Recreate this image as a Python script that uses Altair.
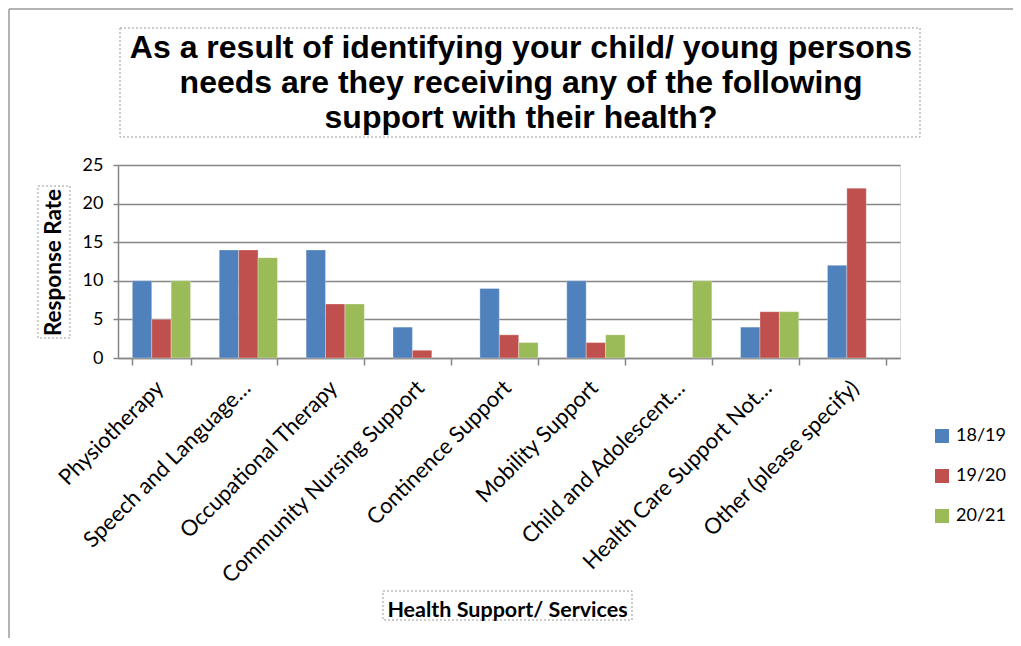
import altair as alt
import pandas as pd

categories = [
    "Physiotherapy",
    "Speech and Language…",
    "Occupational Therapy",
    "Community Nursing Support",
    "Continence Support",
    "Mobility Support",
    "Child and Adolescent…",
    "Health Care Support Not…",
    "Other (please specify)",
]
years = ["18/19", "19/20", "20/21"]
v1819 = [10, 14, 14, 4, 9, 10, 0, 4, 12]
v1920 = [5, 14, 7, 1, 3, 2, 0, 6, 22]
v2021 = [10, 13, 7, 0, 2, 3, 10, 6, 0]
colors = ["#4F81BD", "#C0504D", "#9BBB59"]
title_lines = [
    "As a result of identifying your child/ young persons",
    "needs are they receiving any of the following",
    "support with their health?",
]

rows = []
for yr, vals in zip(years, [v1819, v1920, v2021]):
    for c, v in zip(categories, vals):
        rows.append({"category": c, "year": yr, "value": v})
df = pd.DataFrame(rows)

W, H = 782, 193
PL, PT = 110, 157

bars = alt.Chart(df).transform_filter("datum.value > 0").mark_bar(
    stroke="white", strokeWidth=0.6, strokeOpacity=0.5
).encode(
    x=alt.X(
        "category:N",
        sort=categories,
        scale=alt.Scale(paddingInner=0.33, paddingOuter=0.165),
        axis=alt.Axis(
            title="Health Support/ Services",
            labelAngle=-45,
            labelFont="Lato",
            labelFontSize=22,
            labelColor="#000000",
            labelPadding=12,
            labelOffset=-9,
            labelLimit=400,
            tickBand="extent",
            tickSize=7,
            tickColor="#868686",
            tickWidth=1.5,
            domainColor="#868686",
            domainWidth=1.5,
            titleFont="Lato",
            titleFontSize=21.5,
            titleFontWeight="bold",
            titleColor="#000000",
            titleY=241,
            titleX=W / 2 - 2,
        ),
    ),
    xOffset=alt.XOffset("year:N", sort=years),
    y=alt.Y(
        "value:Q",
        scale=alt.Scale(domain=[0, 25]),
        axis=alt.Axis(
            title="Response Rate",
            values=[0, 5, 10, 15, 20, 25],
            labelFont="Lato",
            labelFontSize=18,
            labelColor="#000000",
            labelPadding=10,
            tickSize=5,
            tickColor="#868686",
            tickWidth=1.5,
            domainColor="#868686",
            domainWidth=1.5,
            gridColor="#868686",
            gridWidth=1.5,
            titleFont="Lato",
            titleFontSize=22.5,
            titleFontWeight="bold",
            titleColor="#000000",
            titleX=-65,
            titleY=97,
            titleAlign="center",
            titleBaseline="middle",
        ),
    ),
    color=alt.Color(
        "year:N",
        sort=years,
        scale=alt.Scale(domain=years, range=colors),
        legend=alt.Legend(
            title=None,
            orient="none",
            legendX=815,
            legendY=262,
            symbolType="square",
            symbolSize=196,
            symbolStrokeWidth=0,
            labelFont="Lato",
            labelFontSize=18,
            labelColor="#000000",
            rowPadding=22,
            labelOffset=5,
            padding=0,
        ),
    ),
)

one = pd.DataFrame({"k": [0]})

title = alt.Chart(one).mark_text(
    font="Liberation Sans",
    fontSize=32,
    fontWeight="bold",
    color="#000000",
    align="center",
    baseline="alphabetic",
    lineHeight=35,
).encode(x=alt.value(403), y=alt.value(-107), text=alt.value(title_lines))

dash = dict(fill=None, stroke="#9a9a9a", strokeWidth=1, strokeDash=[2, 2])
title_box = alt.Chart(one).mark_rect(**dash).encode(
    x=alt.value(2), x2=alt.value(802), y=alt.value(-137), y2=alt.value(-28)
)
xtitle_box = alt.Chart(one).mark_rect(**dash).encode(
    x=alt.value(265), x2=alt.value(514), y=alt.value(426), y2=alt.value(455)
)
ytitle_box = alt.Chart(one).mark_rect(**dash).encode(
    x=alt.value(-80), x2=alt.value(-48), y=alt.value(21), y2=alt.value(173)
)

frame = alt.Chart(one).mark_rule(color="#9a9a9a", strokeWidth=1.5).encode(
    x=alt.value(-PL + 1), x2=alt.value(W + 200), y=alt.value(-PT + 1)
)
frame2 = alt.Chart(one).mark_rule(color="#9a9a9a", strokeWidth=1.5).encode(
    x=alt.value(-PL + 1), y=alt.value(-PT + 1), y2=alt.value(H + 300)
)

chart = (
    alt.layer(frame, frame2, title_box, xtitle_box, ytitle_box, title, bars)
    .properties(
        width=W,
        height=H,
        autosize=alt.AutoSizeParams(type="none"),
        padding={"left": PL, "top": PT, "right": 1005 - PL - W, "bottom": 630 - PT - H},
    )
    .configure_view(stroke=None)
    .configure(background="white")
)

chart.save("out.html", embed_options={"renderer": "svg", "actions": False})
